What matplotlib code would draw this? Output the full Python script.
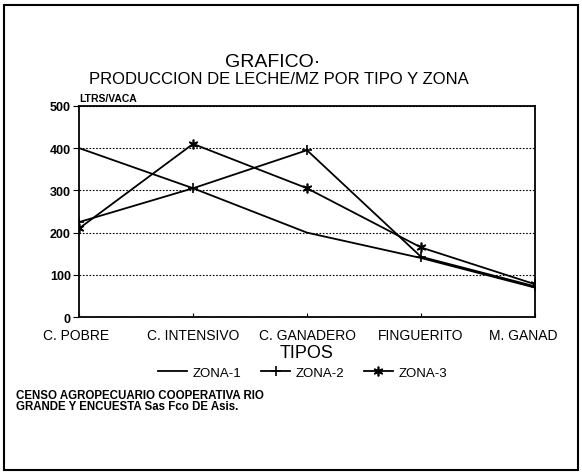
import matplotlib.pyplot as plt
from matplotlib.patches import Rectangle
from matplotlib.transforms import ScaledTranslation

tipos = ["C. POBRE", "C. INTENSIVO", "C. GANADERO", "FINGUERITO", "M. GANAD"]
zona1 = [400, 305, 200, 140, 70]
zona2 = [225, 305, 395, 143, 73]
zona3 = [210, 410, 305, 165, 78]
yticks = [0, 100, 200, 300, 400, 500]
ytick_labels = ["0", "100", "200", "300", "400", "500"]

narrow = ["Liberation Sans", "DejaVu Sans"]

fig = plt.figure(figsize=(5.82, 4.77), dpi=100)
ax = fig.add_axes([0.136, 0.333, 0.783, 0.443])

x = range(len(tipos))
l1, = ax.plot(x, zona1, color="black", lw=1.3, label="ZONA-1")
l2, = ax.plot(x, zona2, color="black", lw=1.3, marker="+", ms=7, mew=1.2, label="ZONA-2")
l3, = ax.plot(x, zona3, color="black", lw=1.3, marker=(6, 2, 0), ms=7, mew=1.2, label="ZONA-3")

ax.set_xlim(0, len(tipos) - 1)
ax.set_ylim(0, 500)
ax.set_yticks(yticks)
ax.set_yticklabels(ytick_labels, fontsize=9, fontweight="bold", family=narrow)
ax.set_xticks(list(x))
ax.set_xticklabels(tipos, fontsize=10, family=narrow)
ax.tick_params(axis="x", length=3, direction="in", pad=8)
ax.tick_params(axis="y", length=4, direction="out", pad=2)
# last label sits a little left of its tick, as in the original
xl = ax.get_xticklabels()
xl[-1].set_transform(xl[-1].get_transform() + ScaledTranslation(-12 / 100, 0, fig.dpi_scale_trans))
xl[0].set_transform(xl[0].get_transform() + ScaledTranslation(-3 / 100, 0, fig.dpi_scale_trans))
ax.yaxis.grid(True, linestyle=(0, (1.5, 1.5)), color="black", lw=0.8)
for s in ax.spines.values():
    s.set_linewidth(1.3)

ax.set_xlabel("TIPOS", fontsize=13, labelpad=1, family=narrow)
fig.text(0.137, 0.783, "LTRS/VACA", fontsize=7.5, fontweight="bold", ha="left", va="bottom",
         family=narrow)

fig.text(0.468, 0.852, "GRAFICO·", fontsize=14, ha="center", va="bottom", family=narrow)
fig.text(0.48, 0.818, "PRODUCCION DE LECHE/MZ POR TIPO Y ZONA", fontsize=12, ha="center",
         va="bottom", family=narrow)

fig.legend(handles=[l1, l2, l3], loc="center", bbox_to_anchor=(0.52, 0.216), ncol=3,
           frameon=False, prop={"family": narrow, "size": 9.5}, handlelength=2.2,
           columnspacing=1.5, handletextpad=0.4)

fig.text(0.027, 0.158, "CENSO AGROPECUARIO COOPERATIVA RIO\nGRANDE Y ENCUESTA Sas Fco DE Asis.",
         fontsize=8.3, fontweight="bold", ha="left", va="center", linespacing=0.95, family=narrow)

fig.patches.append(Rectangle((0.007, 0.012), 0.986, 0.976, transform=fig.transFigure,
                             fill=False, lw=1.5, color="black"))

fig.savefig("out.png", dpi=100)
